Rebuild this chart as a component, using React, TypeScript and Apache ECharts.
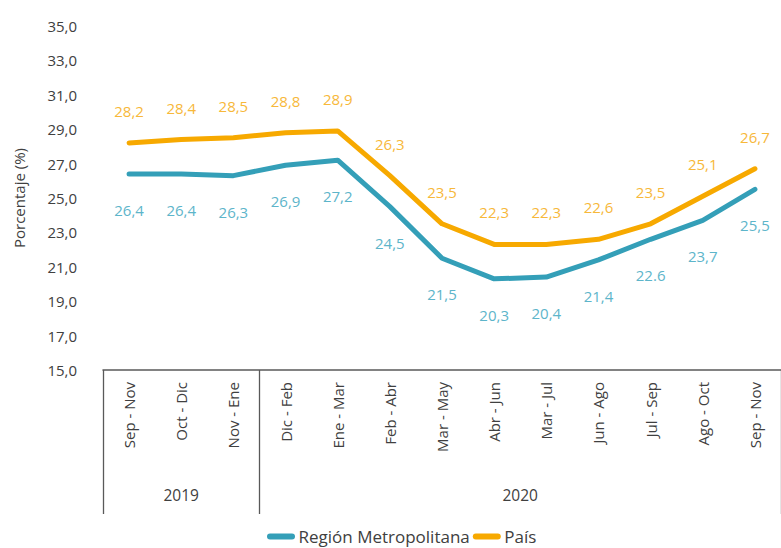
import React, { useEffect, useRef } from "react";
import * as echarts from "echarts";

const categories = [
  "Sep - Nov", "Oct - Dic", "Nov - Ene", "Dic - Feb", "Ene - Mar", "Feb - Abr",
  "Mar - May", "Abr - Jun", "Mar - Jul", "Jun - Ago", "Jul - Sep", "Ago - Oct", "Sep - Nov",
];
const regionValues = [26.4, 26.4, 26.3, 26.9, 27.2, 24.5, 21.5, 20.3, 20.4, 21.4, 22.6, 23.7, 25.5];
const regionLabels = ["26,4", "26,4", "26,3", "26,9", "27,2", "24,5", "21,5", "20,3", "20,4", "21,4", "22.6", "23,7", "25,5"];
const paisValues = [28.2, 28.4, 28.5, 28.8, 28.9, 26.3, 23.5, 22.3, 22.3, 22.6, 23.5, 25.1, 26.7];
const paisLabels = ["28,2", "28,4", "28,5", "28,8", "28,9", "26,3", "23,5", "22,3", "22,3", "22,6", "23,5", "25,1", "26,7"];
const yTicks = [15, 17, 19, 21, 23, 25, 27, 29, 31, 33, 35];
const years = ["2019", "2020"];
const yearStarts = [0, 3];
const yearEnds = [3, 13];

const FONT = "'Open Sans', 'Noto Sans', sans-serif";
const BLUE = "#349fb8";
const ORANGE = "#f7a900";
const TEXT = "#404040";
const AXIS = "#595959";
const capsule = "path://M3,0 L25,0 A3,3 0 0 1 25,6 L3,6 A3,3 0 0 1 3,0 Z";

export default function App() {
  const ref = useRef<HTMLDivElement>(null);
  useEffect(() => {
    if (!ref.current) return;
    const chart = echarts.init(ref.current, undefined, { renderer: "svg" });
    const yearCenters = yearStarts.map((s, i) => (s + yearEnds[i]) / 2);
    chart.setOption({
      animation: false,
      textStyle: { fontFamily: FONT },
      grid: { left: 103, top: 26, width: 683, height: 344, containLabel: false },
      legend: {
        left: 267,
        top: 528,
        padding: 0,
        itemWidth: 29,
        itemHeight: 6,
        itemGap: 3,
        data: [
          { name: "Región Metropolitana", icon: capsule },
          { name: "País", icon: capsule },
        ],
        textStyle: { fontFamily: FONT, fontSize: 17, color: TEXT, padding: [0, 0, 0, -2] },
      },
      xAxis: [
        {
          type: "category",
          data: categories,
          boundaryGap: true,
          axisLine: { show: true, lineStyle: { color: AXIS, width: 1.5 } },
          axisTick: { show: false },
          axisLabel: {
            rotate: 90,
            interval: 0,
            margin: 12,
            fontSize: 15,
            color: TEXT,
            fontFamily: FONT,
          },
          splitLine: { show: false },
        },
        {
          type: "value",
          position: "bottom",
          min: 0,
          max: 13,
          axisLine: { show: false },
          axisTick: {
            show: true,
            inside: false,
            length: 144,
            customValues: [...yearStarts, yearEnds[yearEnds.length - 1]],
            lineStyle: { color: AXIS, width: 1.3 },
          },
          axisLabel: {
            show: true,
            customValues: yearCenters,
            margin: 117,
            fontSize: 15.5,
            color: TEXT,
            fontFamily: FONT,
            formatter: (v: number) => {
              const i = yearCenters.indexOf(v);
              return i >= 0 ? years[i] : "";
            },
          },
          splitLine: { show: false },
        },
      ],
      yAxis: {
        type: "value",
        min: 15,
        max: 35,
        interval: 1,
        name: "Porcentaje (%)",
        nameLocation: "middle",
        nameGap: 77,
        nameRotate: 90,
        nameTextStyle: { fontSize: 15, color: TEXT, fontFamily: FONT },
        axisLine: { show: false },
        axisTick: { show: false },
        splitLine: { show: false },
        axisLabel: {
          customValues: yTicks,
          margin: 26,
          fontSize: 15,
          color: TEXT,
          fontFamily: FONT,
          padding: [0, 0, 6, 0],
          formatter: (v: number) => v.toFixed(1).replace(".", ","),
        },
      },
      series: [
        {
          name: "Región Metropolitana",
          type: "line",
          data: regionValues,
          showSymbol: true,
          symbol: "circle",
          symbolSize: 1,
          lineStyle: { color: BLUE, width: 5, cap: "round", join: "round" },
          itemStyle: { color: BLUE },
          label: {
            show: true,
            position: "bottom",
            distance: 28,
            fontSize: 15,
            color: "#5db5ca",
            fontFamily: FONT,
            formatter: (p: any) => regionLabels[p.dataIndex],
          },
        },
        {
          name: "País",
          type: "line",
          data: paisValues,
          showSymbol: true,
          symbol: "circle",
          symbolSize: 1,
          lineStyle: { color: ORANGE, width: 5, cap: "round", join: "round" },
          itemStyle: { color: ORANGE },
          label: {
            show: true,
            position: "top",
            distance: 24,
            fontSize: 15,
            color: "#f7b83a",
            fontFamily: FONT,
            formatter: (p: any) => paisLabels[p.dataIndex],
          },
        },
      ],
    });
    return () => chart.dispose();
  }, []);
  return (
    <div
      ref={ref}
      style={{ position: "fixed", left: 0, top: 0, width: 781, height: 548, background: "#fff" }}
    />
  );
}
